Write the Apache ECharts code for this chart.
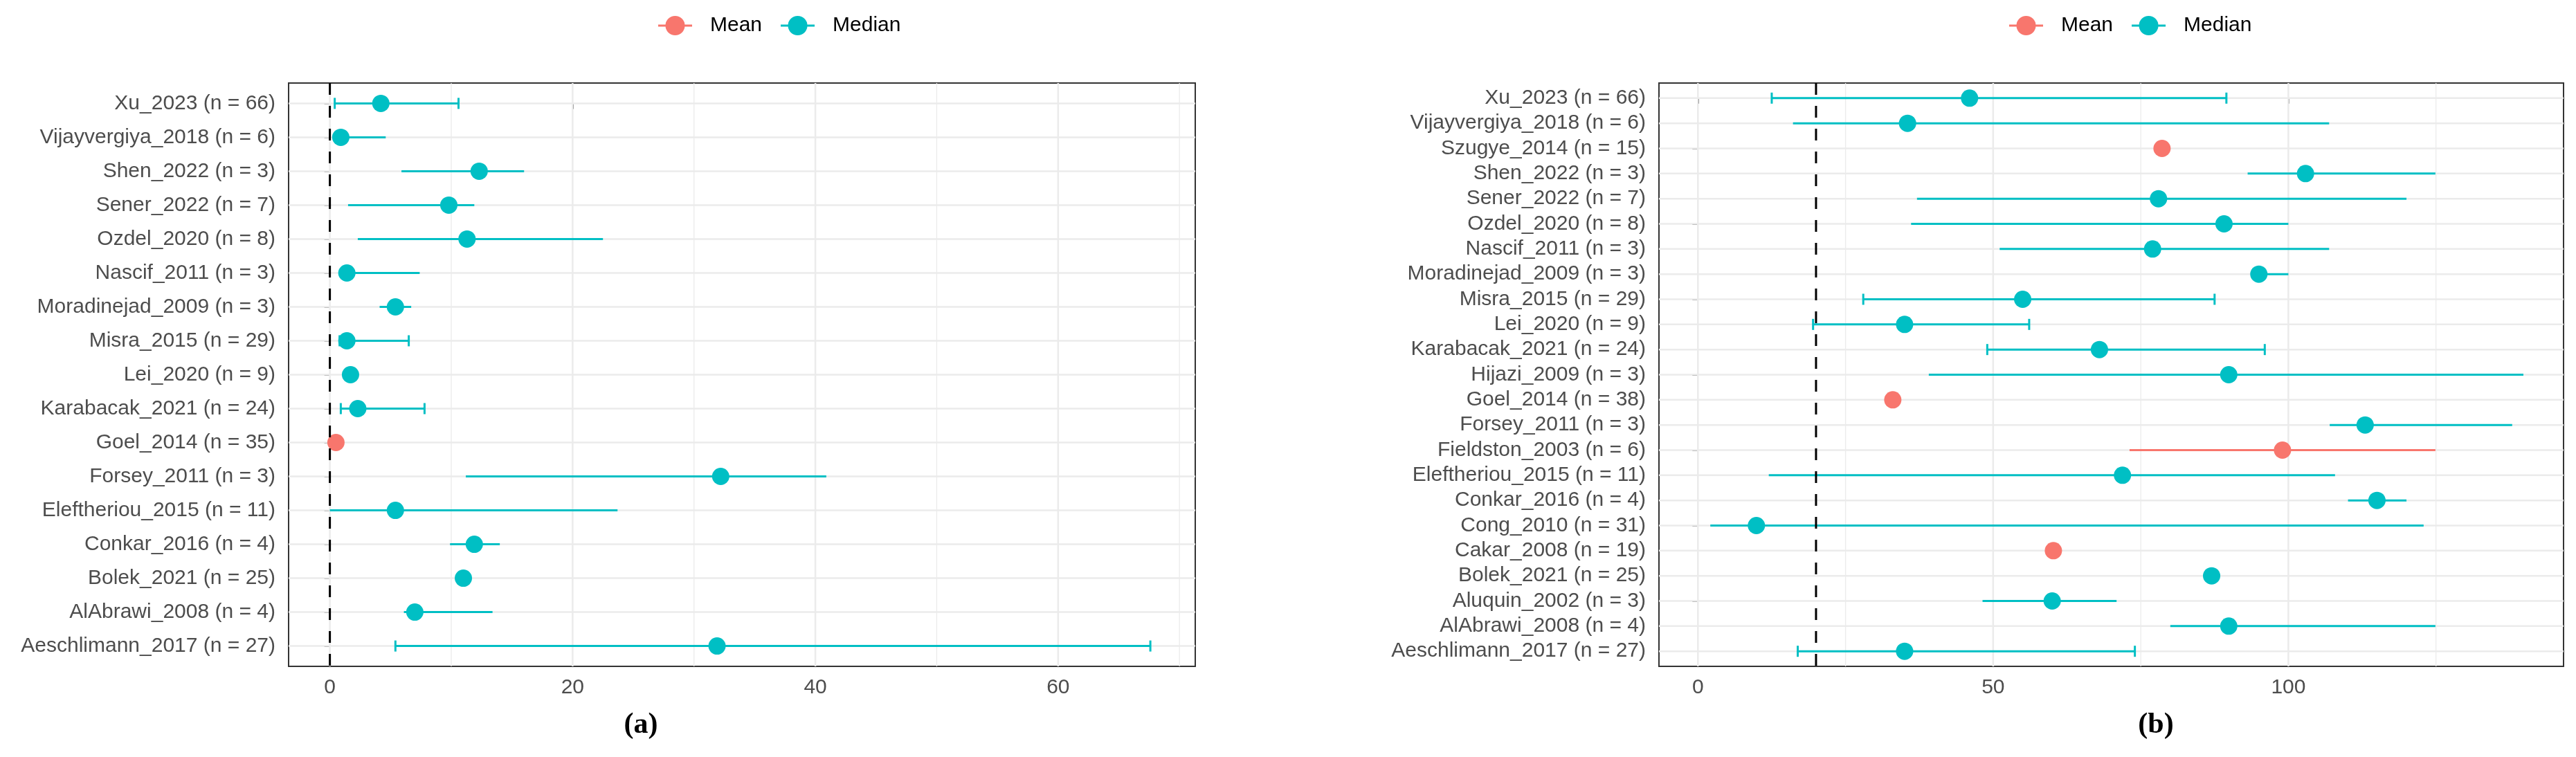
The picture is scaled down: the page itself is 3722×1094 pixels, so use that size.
<!DOCTYPE html>
<html>
<head>
<meta charset="utf-8">
<script src="https://cdn.jsdelivr.net/npm/echarts@6/dist/echarts.min.js"></script>
<style>
  html, body { margin: 0; padding: 0; background: #fff; }
  #main { width: 3722px; height: 1094px; }
</style>
</head>
<body>
<div id="main"></div>
<script>
var myChart = echarts.init(document.getElementById('main'));
var meanColor = '#F8766D';
var medianColor = '#00BFC4';
var fontFamily = 'Liberation Sans, Arial, sans-serif';

// panel (a)
var studiesA = ['Xu_2023 (n = 66)', 'Vijayvergiya_2018 (n = 6)', 'Shen_2022 (n = 3)', 'Sener_2022 (n = 7)',
  'Ozdel_2020 (n = 8)', 'Nascif_2011 (n = 3)', 'Moradinejad_2009 (n = 3)', 'Misra_2015 (n = 29)',
  'Lei_2020 (n = 9)', 'Karabacak_2021 (n = 24)', 'Goel_2014 (n = 35)', 'Forsey_2011 (n = 3)',
  'Eleftheriou_2015 (n = 11)', 'Conkar_2016 (n = 4)', 'Bolek_2021 (n = 25)', 'AlAbrawi_2008 (n = 4)',
  'Aeschlimann_2017 (n = 27)'];
var typesA = ['Median', 'Median', 'Median', 'Median', 'Median', 'Median', 'Median', 'Median',
  'Median', 'Median', 'Mean', 'Median', 'Median', 'Median', 'Median', 'Median', 'Median'];
var centerA = [4.2, 0.9, 12.3, 9.8, 11.3, 1.4, 5.4, 1.4, 1.7, 2.3, 0.5, 32.2, 5.4, 11.9, 11.0, 7.0, 31.9];
var lowerA = [0.4, 0.5, 5.9, 1.5, 2.3, 1.0, 4.1, 0.8, null, 0.9, null, 11.2, 0.0, 9.9, null, 6.1, 5.4];
var upperA = [10.6, 4.6, 16.0, 11.9, 22.5, 7.4, 6.7, 6.5, null, 7.8, null, 40.9, 23.7, 14.0, null, 13.4, 67.6];
var ticksA = [0, 20, 40, 60];
var minorTicksA = [10, 30, 50, 70];
var refLineA = [0];

// panel (b)
var studiesB = ['Xu_2023 (n = 66)', 'Vijayvergiya_2018 (n = 6)', 'Szugye_2014 (n = 15)', 'Shen_2022 (n = 3)',
  'Sener_2022 (n = 7)', 'Ozdel_2020 (n = 8)', 'Nascif_2011 (n = 3)', 'Moradinejad_2009 (n = 3)',
  'Misra_2015 (n = 29)', 'Lei_2020 (n = 9)', 'Karabacak_2021 (n = 24)', 'Hijazi_2009 (n = 3)',
  'Goel_2014 (n = 38)', 'Forsey_2011 (n = 3)', 'Fieldston_2003 (n = 6)', 'Eleftheriou_2015 (n = 11)',
  'Conkar_2016 (n = 4)', 'Cong_2010 (n = 31)', 'Cakar_2008 (n = 19)', 'Bolek_2021 (n = 25)',
  'Aluquin_2002 (n = 3)', 'AlAbrawi_2008 (n = 4)', 'Aeschlimann_2017 (n = 27)'];
var typesB = ['Median', 'Median', 'Mean', 'Median', 'Median', 'Median', 'Median', 'Median',
  'Median', 'Median', 'Median', 'Median', 'Mean', 'Median', 'Mean', 'Median',
  'Median', 'Median', 'Mean', 'Median', 'Median', 'Median', 'Median'];
var centerB = [46.0, 35.5, 78.6, 102.9, 78.0, 89.1, 77.0, 95.0, 55.0, 35.0, 68.0, 89.9,
  33.0, 113.0, 99.0, 71.9, 115.0, 9.9, 60.2, 87.0, 60.0, 89.9, 35.0];
var lowerB = [12.5, 16.1, null, 93.1, 37.1, 36.1, 51.1, 94.0, 28.0, 19.5, 49.0, 39.1,
  null, 107.0, 73.1, 12.0, 110.1, 2.1, null, null, 48.2, 80.0, 16.9];
var upperB = [89.5, 106.9, null, 124.9, 120.0, 100.0, 106.9, 100.0, 87.5, 56.1, 96.0, 139.8,
  null, 137.9, 124.9, 107.9, 120.0, 122.9, null, null, 70.9, 124.9, 74.0];
var ticksB = [0, 50, 100];
var minorTicksB = [25, 75, 125];
var refLineB = [20];

// studies drawn with end caps on the whiskers
var cappedStudies = ['Xu_2023', 'Misra_2015', 'Lei_2020', 'Karabacak_2021', 'Aeschlimann_2017'];

var legendIcon = 'path://M0,12.5H49V15.5H0Z M38.5,14A14,14,0,1,1,10.5,14A14,14,0,1,1,38.5,14Z';

function rowIndex(n) {
  var r = [];
  for (var i = 0; i < n; i++) r.push(i);
  return r;
}

function pointData(centers, types, type) {
  var out = [];
  for (var i = 0; i < centers.length; i++) {
    if (types[i] === type) out.push([centers[i], i]);
  }
  return out;
}

function whiskerData(studies, lower, upper, types) {
  var out = [];
  for (var i = 0; i < studies.length; i++) {
    if (lower[i] == null) continue;
    var capped = cappedStudies.indexOf(studies[i].split(' ')[0]) >= 0 ? 1 : 0;
    out.push([lower[i], upper[i], i, capped, types[i] === 'Median' ? 1 : 0]);
  }
  return out;
}

function gridData(major, minor, n) {
  var out = [];
  minor.forEach(function (v) { out.push([0, v, 1.3]); });
  major.forEach(function (v) { out.push([0, v, 2.5]); });
  rowIndex(n).forEach(function (v) { out.push([1, v, 2.5]); });
  return out;
}

function renderGrid(params, api) {
  var cs = params.coordSys;
  var kind = api.value(0);
  var v = api.value(1);
  var w = api.value(2);
  var shape;
  if (kind === 0) {
    var x = api.coord([v, 0])[0];
    shape = { x1: x, y1: cs.y, x2: x, y2: cs.y + cs.height };
  } else {
    var y = api.coord([0, v])[1];
    shape = { x1: cs.x, y1: y, x2: cs.x + cs.width, y2: y };
  }
  return { type: 'line', shape: shape, style: { stroke: '#EBEBEB', lineWidth: w } };
}

function renderWhisker(params, api) {
  var lo = api.coord([api.value(0), api.value(2)]);
  var hi = api.coord([api.value(1), api.value(2)]);
  var color = api.value(4) ? medianColor : meanColor;
  var children = [{
    type: 'line',
    shape: { x1: lo[0], y1: lo[1], x2: hi[0], y2: hi[1] },
    style: { stroke: color, lineWidth: 3 }
  }];
  if (api.value(3)) {
    [lo, hi].forEach(function (p) {
      children.push({
        type: 'line',
        shape: { x1: p[0], y1: p[1] - 8, x2: p[0], y2: p[1] + 8 },
        style: { stroke: color, lineWidth: 3 }
      });
    });
  }
  return { type: 'group', children: children };
}

function renderRef(params, api) {
  var cs = params.coordSys;
  var x = api.coord([api.value(0), 0])[0];
  return {
    type: 'line',
    shape: { x1: x, y1: cs.y, x2: x, y2: cs.y + cs.height },
    style: { stroke: '#000', lineWidth: 3, lineDash: [17, 16] }
  };
}

function xAxisFor(idx, min, max, ticks) {
  return {
    type: 'value', gridIndex: idx, min: min, max: max,
    axisLine: { show: false },
    splitLine: { show: false },
    axisTick: { customValues: ticks, length: 8, lineStyle: { color: '#333', width: 2 } },
    axisLabel: { customValues: ticks, margin: 16, fontSize: 30, color: '#4D4D4D', fontFamily: fontFamily }
  };
}

function yAxisFor(idx, studies) {
  return {
    type: 'value', gridIndex: idx, inverse: true,
    min: -0.6, max: studies.length - 0.4,
    axisLine: { show: false },
    splitLine: { show: false },
    axisTick: { customValues: rowIndex(studies.length), length: 8, lineStyle: { color: '#333', width: 2 } },
    axisLabel: {
      customValues: rowIndex(studies.length), margin: 19, fontSize: 30, color: '#4D4D4D', fontFamily: fontFamily,
      formatter: function (v) { return studies[Math.round(v)] || ''; }
    }
  };
}

function seriesFor(idx, studies, types, centers, lower, upper, major, minor, ref) {
  return [{
    type: 'custom', xAxisIndex: idx, yAxisIndex: idx, z: 1, silent: true,
    renderItem: renderGrid, data: gridData(major, minor, studies.length)
  }, {
    type: 'custom', xAxisIndex: idx, yAxisIndex: idx, z: 3, silent: true,
    renderItem: renderWhisker, data: whiskerData(studies, lower, upper, types)
  }, {
    name: 'Mean', type: 'scatter', xAxisIndex: idx, yAxisIndex: idx, z: 4,
    symbolSize: 25, itemStyle: { color: meanColor, opacity: 1 },
    data: pointData(centers, types, 'Mean')
  }, {
    name: 'Median', type: 'scatter', xAxisIndex: idx, yAxisIndex: idx, z: 4,
    symbolSize: 25, itemStyle: { color: medianColor, opacity: 1 },
    data: pointData(centers, types, 'Median')
  }, {
    type: 'custom', xAxisIndex: idx, yAxisIndex: idx, z: 10, silent: true,
    renderItem: renderRef, data: ref.map(function (v) { return [v]; })
  }];
}

function legendFor(left) {
  return {
    left: left, top: 17, orient: 'horizontal',
    itemWidth: 49, itemHeight: 28, itemGap: 27,
    textStyle: { fontSize: 30, color: '#000', fontFamily: fontFamily, padding: [0, 0, 0, 21] },
    data: [{ name: 'Mean', icon: legendIcon }, { name: 'Median', icon: legendIcon }]
  };
}

var option = {
  backgroundColor: '#fff',
  animation: false,
  title: [{
    text: '(a)', left: 921, top: 1022, textAlign: 'center',
    textStyle: { fontSize: 42, fontWeight: 'bold', color: '#000', fontFamily: 'Liberation Serif, serif' }
  }, {
    text: '(b)', left: 3110, top: 1022, textAlign: 'center',
    textStyle: { fontSize: 42, fontWeight: 'bold', color: '#000', fontFamily: 'Liberation Serif, serif' }
  }],
  legend: [legendFor(946), legendFor(2898)],
  grid: [{
    left: 417, right: 3722 - 1727, top: 120, bottom: 1094 - 963,
    show: true, borderColor: '#333', borderWidth: 2, backgroundColor: 'transparent'
  }, {
    left: 2397, right: 3722 - 3704, top: 120, bottom: 1094 - 963,
    show: true, borderColor: '#333', borderWidth: 2, backgroundColor: 'transparent'
  }],
  xAxis: [xAxisFor(0, -3.4, 71.3, ticksA), xAxisFor(1, -6.6, 146.6, ticksB)],
  yAxis: [yAxisFor(0, studiesA), yAxisFor(1, studiesB)],
  series: seriesFor(0, studiesA, typesA, centerA, lowerA, upperA, ticksA, minorTicksA, refLineA)
    .concat(seriesFor(1, studiesB, typesB, centerB, lowerB, upperB, ticksB, minorTicksB, refLineB))
};

myChart.setOption(option);
</script>
</body>
</html>
